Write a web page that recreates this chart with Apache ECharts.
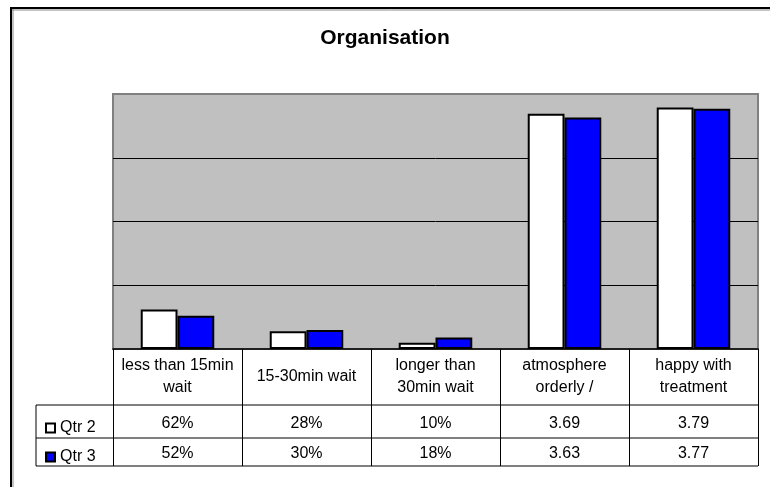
<!DOCTYPE html>
<html>
<head>
<meta charset="utf-8">
<script src="https://cdn.jsdelivr.net/npm/echarts@6/dist/echarts.min.js"></script>
<style>
	html, body { margin: 0; padding: 0; background: #fff; }
	#chart { width: 770px; height: 487px; }
</style>
</head>
<body>
<div id="chart"></div>
<script>
	// categories (table header row)
	let categories = ['less than 15min\nwait', '15-30min wait', 'longer than\n30min wait', 'atmosphere\norderly /', 'happy with\ntreatment'];
	let seriesNames = ['Qtr 2', 'Qtr 3'];
	let qtr2 = [0.62, 0.28, 0.10, 3.69, 3.79];
	let qtr3 = [0.52, 0.30, 0.18, 3.63, 3.77];
	let qtr2Labels = ['62%', '28%', '10%', '3.69', '3.79'];
	let qtr3Labels = ['52%', '30%', '18%', '3.63', '3.77'];

	// layout of plot + data table
	let plotLeft = 113, plotRight = 758, plotTop = 94, plotBottom = 349;
	let tableLeft = 36, headerBottom = 405, row1Bottom = 438, row2Bottom = 466;
	let font = "'Liberation Sans', Arial, sans-serif";
	let fontSize = 16;

	function hline(y, x1, x2) {
		return { type: 'line', shape: { x1: x1, y1: y, x2: x2, y2: y }, style: { stroke: '#000', lineWidth: 1 }, z: 10 };
	}
	function vline(x, y1, y2) {
		return { type: 'line', shape: { x1: x, y1: y1, x2: x, y2: y2 }, style: { stroke: '#000', lineWidth: 1 }, z: 10 };
	}

	let chart = echarts.init(document.getElementById('chart'));
	let option = {
		animation: false,
		backgroundColor: '#fff',
		title: {
			text: 'Organisation',
			left: 'center',
			top: 23,
			textStyle: { fontFamily: font, fontSize: 21, fontWeight: 'bold', color: '#000' }
		},
		legend: {
			orient: 'vertical',
			left: 40,
			top: 415,
			itemWidth: 9,
			itemHeight: 9,
			itemGap: 13,
			icon: 'rect',
			data: seriesNames,
			textStyle: { fontFamily: font, fontSize: fontSize, color: '#000' }
		},
		grid: {
			left: plotLeft,
			right: 770 - plotRight,
			top: plotTop,
			bottom: 487 - plotBottom,
			show: true,
			backgroundColor: '#c0c0c0',
			borderColor: '#808080',
			borderWidth: 2,
			containLabel: false
		},
		xAxis: [{
			type: 'category',
			data: categories,
			axisLine: { show: true, lineStyle: { color: '#000', width: 1.5 } },
			axisTick: { show: true, interval: 0, length: row2Bottom - plotBottom, lineStyle: { color: '#000', width: 1 } },
			axisLabel: {
				interval: 0, margin: 28, verticalAlign: 'middle', lineHeight: 22,
				fontFamily: font, fontSize: fontSize, color: '#000'
			}
		}, {
			type: 'category',
			data: categories,
			position: 'bottom',
			axisLine: { show: false },
			axisTick: { show: false },
			axisLabel: {
				interval: 0, margin: 75, verticalAlign: 'middle',
				fontFamily: font, fontSize: fontSize, color: '#000',
				formatter: (v, i) => qtr2Labels[i]
			}
		}, {
			type: 'category',
			data: categories,
			position: 'bottom',
			axisLine: { show: false },
			axisTick: { show: false },
			axisLabel: {
				interval: 0, margin: 105, verticalAlign: 'middle',
				fontFamily: font, fontSize: fontSize, color: '#000',
				formatter: (v, i) => qtr3Labels[i]
			}
		}],
		yAxis: {
			type: 'value',
			min: 0,
			max: 4,
			interval: 1,
			axisLine: { show: false },
			axisTick: { show: false },
			axisLabel: { show: false },
			splitLine: { show: true, showMinLine: false, showMaxLine: false, lineStyle: { color: '#000', width: 1 } }
		},
		series: [{
			type: 'bar',
			name: seriesNames[0],
			data: qtr2,
			barGap: '0%',
			barCategoryGap: '43%',
			itemStyle: { color: '#fff', borderColor: '#000', borderWidth: 2 }
		}, {
			type: 'bar',
			name: seriesNames[1],
			data: qtr3,
			itemStyle: { color: '#0000ff', borderColor: '#000', borderWidth: 2 }
		}],
		graphic: [
			// outer chart frame
			{ type: 'line', shape: { x1: 11, y1: 10, x2: 770, y2: 10 }, style: { stroke: '#888', lineWidth: 1 } },
			{ type: 'line', shape: { x1: 13, y1: 8, x2: 13, y2: 487 }, style: { stroke: '#888', lineWidth: 1 } },
			{ type: 'line', shape: { x1: 10, y1: 8, x2: 770, y2: 8 }, style: { stroke: '#000', lineWidth: 2 } },
			{ type: 'line', shape: { x1: 11, y1: 7, x2: 11, y2: 487 }, style: { stroke: '#000', lineWidth: 2 } },
			// data table rules
			hline(headerBottom, tableLeft, plotRight),
			hline(row1Bottom, tableLeft, plotRight),
			hline(row2Bottom, tableLeft, plotRight),
			vline(tableLeft, headerBottom, row2Bottom)
		]
	};
	chart.setOption(option);
</script>
</body>
</html>
